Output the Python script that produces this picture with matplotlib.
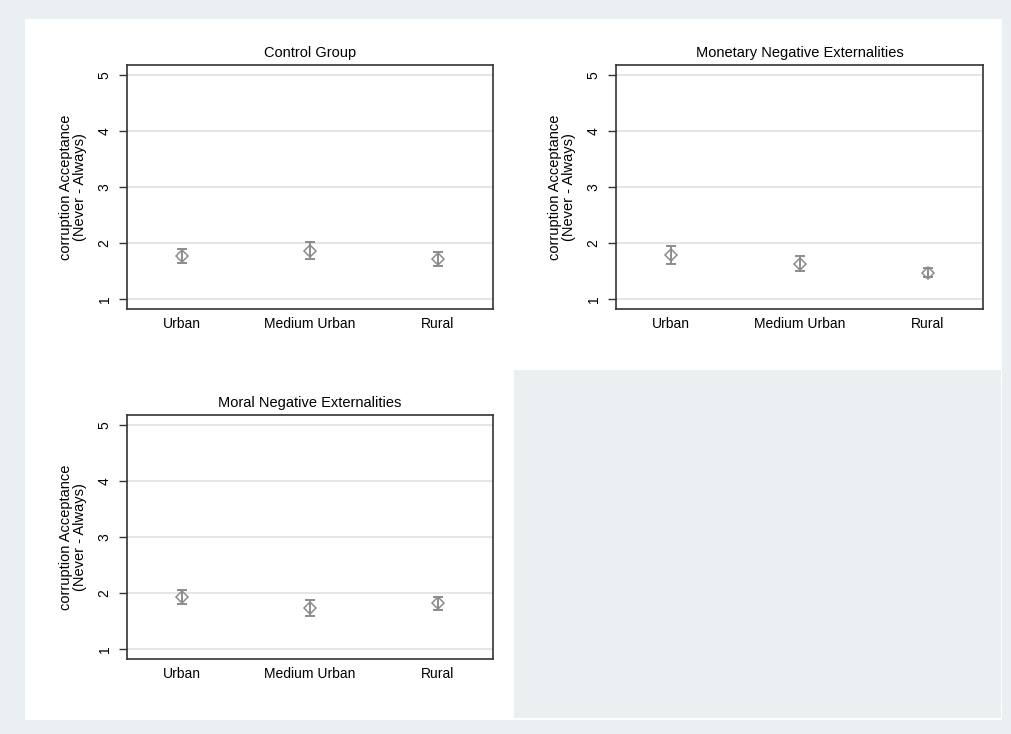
import matplotlib
matplotlib.use("Agg")
import matplotlib.pyplot as plt
import numpy as np
from matplotlib.patches import Rectangle

plt.rcParams['font.family'] = ['Liberation Sans', 'DejaVu Sans']

# Данные: средние значения и границы доверительных интервалов
categories = ['Urban', 'Medium Urban', 'Rural']
titles = ['Control Group', 'Monetary Negative Externalities', 'Moral Negative Externalities']

control_mean = [1.77, 1.86, 1.71]
control_lo = [1.65, 1.71, 1.58]
control_hi = [1.89, 2.01, 1.83]

monetary_mean = [1.79, 1.63, 1.47]
monetary_lo = [1.63, 1.50, 1.39]
monetary_hi = [1.95, 1.77, 1.55]

moral_mean = [1.93, 1.73, 1.82]
moral_lo = [1.80, 1.59, 1.69]
moral_hi = [2.05, 1.88, 1.93]

y_ticks = [1, 2, 3, 4, 5]

W, H = 1011, 734
BG = '#eaeff2'
MARK = '#8c8c8c'

fig = plt.figure(figsize=(W / 100, H / 100), dpi=100)
fig.patch.set_facecolor(BG)


def px_rect(x0, y0, x1, y1):
    """Пиксельные координаты -> доли фигуры"""
    return [x0 / W, 1 - y1 / H, (x1 - x0) / W, (y1 - y0) / H]


# Белая подложка и серая пустая ячейка
fig.patches.append(Rectangle((25 / W, 1 - 720 / H), (1002 - 25) / W, (720 - 19) / H,
                             transform=fig.transFigure, facecolor='white',
                             edgecolor='none', zorder=-10))
fig.patches.append(Rectangle((514 / W, 1 - 718 / H), (1001 - 514) / W, (718 - 370) / H,
                             transform=fig.transFigure, facecolor=BG,
                             edgecolor='none', zorder=-9))

panels = [
    (px_rect(127, 65, 493, 309), titles[0], control_mean, control_lo, control_hi),
    (px_rect(616, 65, 983, 309), titles[1], monetary_mean, monetary_lo, monetary_hi),
    (px_rect(127, 415, 493, 659), titles[2], moral_mean, moral_lo, moral_hi),
]

x = np.arange(1, len(categories) + 1)

for rect, title, mean, lo, hi in panels:
    ax = fig.add_axes(rect)
    mean = np.array(mean)
    yerr = [mean - np.array(lo), np.array(hi) - mean]
    ax.errorbar(x, mean, yerr=yerr, fmt='none', ecolor=MARK, elinewidth=1.4,
                capsize=3.5, capthick=1.4, zorder=3)
    ax.plot(x, mean, linestyle='none', marker='D', markersize=6,
            markerfacecolor='none', markeredgecolor=MARK, markeredgewidth=1.1, zorder=4)

    ax.set_xlim(0.57, 3.43)
    ax.set_ylim(0.82, 5.18)
    ax.set_xticks(x)
    ax.set_xticklabels(categories, fontsize=10)
    ax.set_yticks(y_ticks)
    ax.set_yticklabels([str(t) for t in y_ticks], fontsize=10, rotation=90, va='center')
    ax.tick_params(axis='x', length=0, pad=6)
    ax.tick_params(axis='y', length=6, width=1, color='#333333', pad=5)
    ax.grid(axis='y', color='#e2e2e2', linewidth=1.2)
    ax.set_axisbelow(True)
    for sp in ax.spines.values():
        sp.set_color('#333333')
        sp.set_linewidth(1.2)
    ax.set_title(title, fontsize=10.5, pad=6)
    ax.set_ylabel('corruption Acceptance\n(Never - Always)', fontsize=10.5, labelpad=8,
                  linespacing=1.0)

plt.savefig('out.png', dpi=100, facecolor=fig.get_facecolor())
